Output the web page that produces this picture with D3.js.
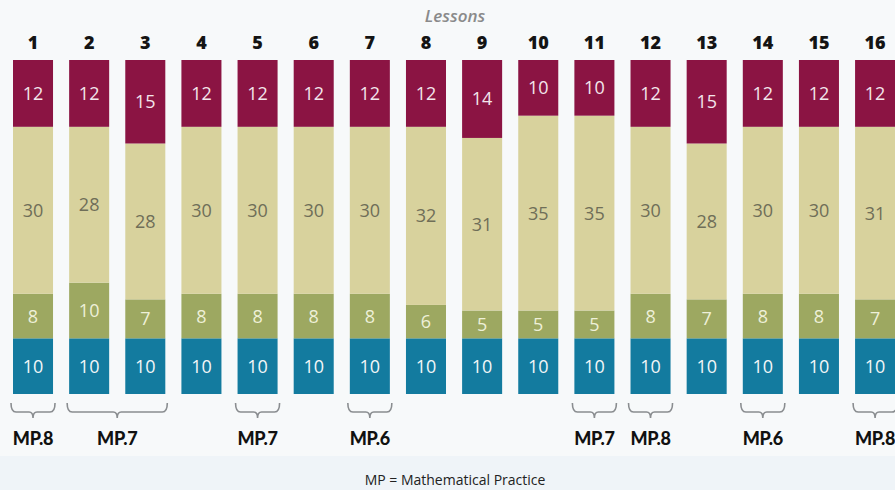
<!DOCTYPE html>
<html><head><meta charset="utf-8">
<script src="https://d3js.org/d3.v7.min.js"></script>
<style>html,body{margin:0;padding:0;background:#eff4f8;}svg{display:block;}</style>
</head><body>
<script>
const lessons = ["1","2","3","4","5","6","7","8","9","10","11","12","13","14","15","16"];
const redVals   = [12,12,15,12,12,12,12,12,14,10,10,12,15,12,12,12];
const tanVals   = [30,28,28,30,30,30,30,32,31,35,35,30,28,30,30,31];
const greenVals = [8,10,7,8,8,8,8,6,5,5,5,8,7,8,8,7];
const blueVals  = [10,10,10,10,10,10,10,10,10,10,10,10,10,10,10,10];
const practices = [
  {label:"MP.8", from:"1", to:"1"},
  {label:"MP.7", from:"2", to:"3"},
  {label:"MP.7", from:"5", to:"5"},
  {label:"MP.6", from:"7", to:"7"},
  {label:"MP.7", from:"11", to:"11"},
  {label:"MP.8", from:"12", to:"12"},
  {label:"MP.6", from:"14", to:"14"},
  {label:"MP.8", from:"16", to:"16"}
];
const seriesKeys = ["blue","green","tan","red"];
const colors = {blue:"#137b9f", green:"#9da861", tan:"#d8d29d", red:"#8b1443"};
const textColors = {blue:"#f2f6f8", green:"#eef0d8", tan:"#6f6e58", red:"#f3e6ec"};

const W=895,H=490;
const svg=d3.select("body").append("svg").attr("width",W).attr("height",H);
svg.append("rect").attr("width",W).attr("height",456).attr("fill","#f7f9fa");
svg.append("rect").attr("y",456).attr("width",W).attr("height",H-456).attr("fill","#eff4f8");

const x=d3.scaleBand().domain(lessons).range([13,895.1]).paddingInner(0.287).paddingOuter(0);
const y=d3.scaleLinear().domain([0,60]).range([394,60]);

const rows=lessons.map((l,i)=>({lesson:l,blue:blueVals[i],green:greenVals[i],tan:tanVals[i],red:redVals[i]}));
const stacked=d3.stack().keys(seriesKeys)(rows);

const g=svg.append("g");
stacked.forEach(s=>{
  const key=s.key;
  g.selectAll(null).data(s).join("rect")
    .attr("x",d=>x(d.data.lesson)).attr("width",x.bandwidth())
    .attr("y",d=>y(d[1])).attr("height",d=>y(d[0])-y(d[1]))
    .attr("fill",colors[key]);
  g.selectAll(null).data(s).join("text")
    .attr("x",d=>x(d.data.lesson)+x.bandwidth()/2)
    .attr("y",d=>(y(d[0])+y(d[1]))/2)
    .attr("dy","0.36em")
    .attr("text-anchor","middle")
    .attr("font-family","'Open Sans', sans-serif")
    .attr("font-size",18)
    .attr("fill",textColors[key])
    .text(d=>d.data[key]);
});

// lesson numbers
svg.selectAll(null).data(lessons).join("text")
  .attr("x",d=>x(d)+x.bandwidth()/2).attr("y",49)
  .attr("text-anchor","middle")
  .attr("font-family","'Open Sans', sans-serif").attr("font-weight",800)
  .attr("font-size",18).attr("fill","#141414").text(d=>d);

svg.append("text").attr("x",455).attr("y",22).attr("text-anchor","middle")
  .attr("font-family","'Open Sans', sans-serif").attr("font-style","italic").attr("font-weight",600)
  .attr("font-size",17).attr("fill","#8a8a8a").text("Lessons");

// braces
practices.forEach(p=>{
  const x0=x(p.from)-2, x1=x(p.to)+x.bandwidth()+2, cx=(x0+x1)/2;
  const top=403, mid=412, tip=418;
  const path=`M${x0},${top} Q${x0},${mid} ${x0+5},${mid} L${cx-4},${mid} Q${cx},${mid} ${cx},${tip} Q${cx},${mid} ${cx+4},${mid} L${x1-5},${mid} Q${x1},${mid} ${x1},${top}`;
  svg.append("path").attr("d",path).attr("fill","none").attr("stroke","#8a8d90").attr("stroke-width",1.6);
  svg.append("text").attr("x",cx).attr("y",445).attr("text-anchor","middle")
    .attr("font-family","Lato, 'Open Sans', sans-serif").attr("font-weight",900)
    .attr("font-size",18).attr("fill","#111").attr("letter-spacing","-0.3").text(p.label);
});

svg.append("text").attr("x",455).attr("y",485).attr("text-anchor","middle")
  .attr("font-family","'Open Sans', sans-serif").attr("font-size",14).attr("fill","#222")
  .text("MP = Mathematical Practice");
</script>
</body></html>
